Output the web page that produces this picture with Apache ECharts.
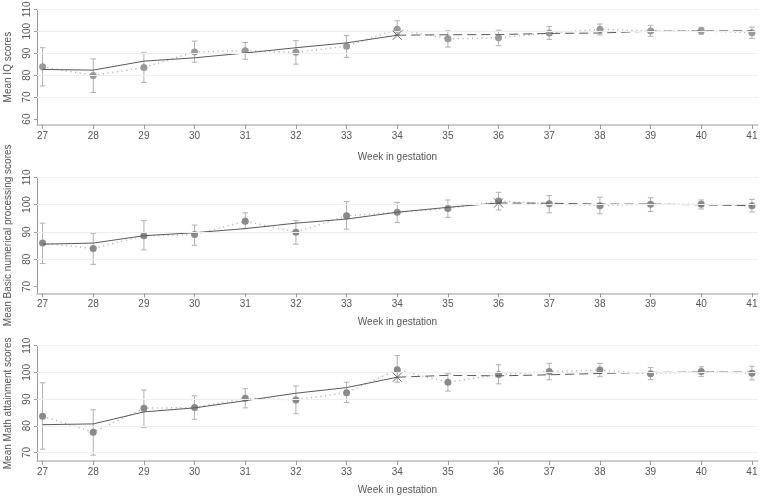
<!DOCTYPE html>
<html>
<head>
<meta charset="utf-8">
<script src="https://cdn.jsdelivr.net/npm/echarts@6/dist/echarts.min.js"></script>
<style>html,body{margin:0;padding:0;background:#fff}#c{width:760px;height:497px}</style>
</head>
<body>
<div id="c"></div>
<script>
// ---- data ----
const weeks = [27, 28, 29, 30, 31, 32, 33, 34, 35, 36, 37, 38, 39, 40, 41];

const iqMean = [83.8, 79.9, 83.5, 90.6, 91.1, 90.4, 93.2, 100.9, 96.6, 97.0, 99.2, 100.9, 100.1, 100.2, 99.3];
const iqLow  = [75.1, 72.1, 76.7, 85.9, 87.2, 85.0, 88.1, 98.6, 92.8, 93.4, 96.3, 98.3, 97.7, 98.6, 96.8];
const iqHigh = [92.5, 87.4, 90.2, 95.5, 94.9, 95.7, 98.1, 104.8, 100.2, 100.5, 102.2, 103.3, 102.7, 101.8, 101.9];
const iqFit  = [82.6, 82.3, 86.4, 87.9, 90.1, 92.5, 94.7, 98.2, 98.4, 98.5, 99.0, 99.2, 100.0, 100.1, 100.2];
const iqBreak = 34;
const iqTicks = [60, 70, 80, 90, 100, 110];
const iqGrid = [70, 80, 90, 100, 110];

const numMean = [85.9, 83.9, 88.6, 89.0, 93.9, 89.9, 95.9, 97.2, 98.6, 101.3, 100.3, 99.6, 100.1, 100.1, 99.6];
const numLow  = [78.4, 78.1, 83.4, 85.1, 91.2, 85.5, 91.0, 93.4, 95.3, 98.0, 97.0, 96.6, 97.5, 98.4, 97.3];
const numHigh = [93.2, 89.5, 94.1, 92.5, 97.0, 94.1, 101.1, 100.8, 101.7, 104.5, 103.3, 102.7, 102.5, 101.7, 101.9];
const numFit  = [85.5, 85.9, 88.6, 89.7, 91.2, 93.2, 94.7, 97.2, 99.0, 100.6, 100.5, 100.2, 100.2, 99.9, 99.6];
const numBreak = 36;
const numTicks = [70, 80, 90, 100, 110];
const numGrid = [80, 90, 100, 110];

const mathMean = [83.6, 77.6, 86.6, 86.8, 90.3, 89.7, 92.4, 101.0, 96.3, 99.2, 100.3, 100.9, 99.5, 100.3, 99.7];
const mathLow  = [71.2, 69.0, 79.4, 82.4, 86.7, 84.5, 88.7, 96.3, 93.0, 95.7, 97.2, 98.4, 97.3, 98.5, 97.2];
const mathHigh = [96.1, 86.0, 93.4, 91.2, 93.9, 94.9, 96.3, 106.3, 99.5, 102.9, 103.4, 103.4, 101.8, 102.1, 102.3];
const mathFit  = [80.4, 80.7, 85.2, 86.7, 89.4, 92.2, 94.3, 98.2, 98.9, 98.7, 99.1, 99.6, 100.0, 100.1, 100.1];
const mathBreak = 34;
const mathTicks = [70, 80, 90, 100, 110];
const mathGrid = [70, 80, 90, 100, 110];

const yTitles = ['Mean IQ scores', 'Mean Basic numerical processing scores', 'Mean Math attainment scores'];
const xTitle = 'Week in gestation';

// ---- layout ----
const FONT = '"Liberation Sans", Arial, sans-serif';
const TXT = '#555';
const panels = [
  { mean: iqMean, low: iqLow, high: iqHigh, fit: iqFit, brk: iqBreak, ticks: iqTicks, grid: iqGrid,
    top: 9.3, height: 115.7, min: 57.3, max: 110, nameGap: 27, marker: '#9a9a9a' },
  { mean: numMean, low: numLow, high: numHigh, fit: numFit, brk: numBreak, ticks: numTicks, grid: numGrid,
    top: 177.3, height: 116, min: 67.5, max: 110, nameGap: 23.5, marker: '#8a8a8a' },
  { mean: mathMean, low: mathLow, high: mathHigh, fit: mathFit, brk: mathBreak, ticks: mathTicks, grid: mathGrid,
    top: 345.7, height: 115.3, min: 66.8, max: 110, nameGap: 24, marker: '#8a8a8a' }
];

const grids = [], xAxes = [], yAxes = [], series = [];

function errRender(params, api) {
  const x = api.value(0), lo = api.value(1), hi = api.value(2);
  const a = api.coord([x, lo]), b = api.coord([x, hi]);
  const w = 2.8;
  const st = { stroke: '#b0b0b0', lineWidth: 1 };
  return { type: 'group', children: [
    { type: 'line', shape: { x1: a[0], y1: a[1], x2: b[0], y2: b[1] }, style: st },
    { type: 'line', shape: { x1: a[0] - w, y1: a[1], x2: a[0] + w, y2: a[1] }, style: st },
    { type: 'line', shape: { x1: b[0] - w, y1: b[1], x2: b[0] + w, y2: b[1] }, style: st }
  ]};
}
function xRender(params, api) {
  const p = api.coord([api.value(0), api.value(1)]);
  const s = 4.5;
  const st = { stroke: '#555', lineWidth: 0.9 };
  return { type: 'group', children: [
    { type: 'line', shape: { x1: p[0] - s, y1: p[1] - s, x2: p[0] + s, y2: p[1] + s }, style: st },
    { type: 'line', shape: { x1: p[0] - s, y1: p[1] + s, x2: p[0] + s, y2: p[1] - s }, style: st }
  ]};
}

panels.forEach((p, i) => {
  grids.push({ left: 37, width: 721, top: p.top, height: p.height, containLabel: false, outerBoundsMode: 'none' });
  xAxes.push({
    type: 'value', gridIndex: i, min: 26.89, max: 41.12,
    name: xTitle, nameLocation: 'middle', nameGap: p.nameGap,
    nameTextStyle: { color: TXT, fontSize: 10, fontFamily: FONT },
    axisLine: { show: true, onZero: false, lineStyle: { color: '#bcbcbc', width: 1.5 } },
    axisTick: { show: true, length: 4, customValues: weeks, lineStyle: { color: '#999' } },
    axisLabel: { customValues: weeks, color: TXT, fontSize: 10, fontFamily: FONT, margin: 6 },
    splitLine: { show: false }
  });
  yAxes.push({
    type: 'value', gridIndex: i, min: p.min, max: p.max,
    name: yTitles[i], nameLocation: 'middle', nameGap: 24,
    nameTextStyle: { color: TXT, fontSize: 10, fontFamily: FONT },
    axisLine: { show: true, onZero: false, lineStyle: { color: '#999', width: 1 } },
    axisTick: { show: true, length: 3, customValues: p.ticks, lineStyle: { color: '#999' } },
    axisLabel: { customValues: p.ticks, rotate: 90, color: TXT, fontSize: 10, fontFamily: FONT, margin: 5 },
    splitLine: { show: false }
  });
  const bi = weeks.indexOf(p.brk);
  const before = weeks.slice(0, bi + 1).map((w, k) => [w, p.fit[k]]);
  const after = weeks.slice(bi).map((w, k) => [w, p.fit[bi + k]]);
  // gridlines
  series.push({
    type: 'line', xAxisIndex: i, yAxisIndex: i, data: [], z: 0, silent: true,
    markLine: { silent: true, symbol: ['none', 'none'], label: { show: false }, animation: false,
      lineStyle: { color: '#efefef', type: 'solid', width: 1 },
      data: p.grid.map(v => ({ yAxis: v })) }
  });
  // error bars
  series.push({
    type: 'custom', xAxisIndex: i, yAxisIndex: i, z: 2, renderItem: errRender,
    encode: { x: 0, y: [1, 2] },
    data: weeks.map((w, k) => [w, p.low[k], p.high[k]])
  });
  // observed means, dotted
  series.push({
    type: 'line', xAxisIndex: i, yAxisIndex: i, z: 3,
    data: weeks.map((w, k) => [w, p.mean[k]]),
    lineStyle: { color: '#b8b8b8', type: [1.2, 3.5], width: 1.5 },
    symbol: 'circle', symbolSize: 7, showSymbol: true,
    itemStyle: { color: p.marker, borderWidth: 0 }
  });
  // fitted before break (solid)
  series.push({
    type: 'line', xAxisIndex: i, yAxisIndex: i, z: 4, data: before, showSymbol: false, symbol: 'none',
    lineStyle: { color: '#5a5a5a', width: 1, type: 'solid' }
  });
  // fitted after break (dashed)
  series.push({
    type: 'line', xAxisIndex: i, yAxisIndex: i, z: 4, data: after, showSymbol: false, symbol: 'none',
    lineStyle: { color: '#5a5a5a', width: 1, type: [9, 5] }
  });
  // break marker
  series.push({
    type: 'custom', xAxisIndex: i, yAxisIndex: i, z: 5, renderItem: xRender,
    encode: { x: 0, y: 1 }, data: [[p.brk, p.fit[bi]]]
  });
});

const chart = echarts.init(document.getElementById('c'), null, { renderer: 'canvas' });
chart.setOption({
  animation: false,
  backgroundColor: '#fff',
  grid: grids, xAxis: xAxes, yAxis: yAxes, series: series
});
</script>
</body>
</html>
